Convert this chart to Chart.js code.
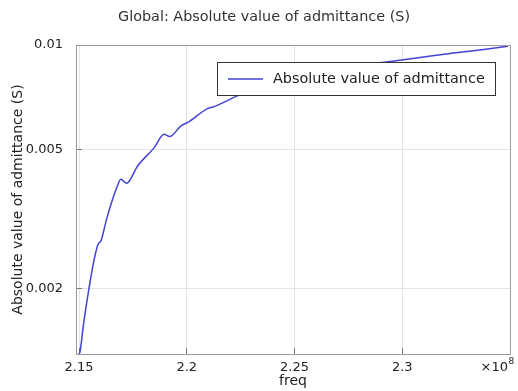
<!DOCTYPE html>
<html><head><meta charset="utf-8">
<script src="https://cdn.jsdelivr.net/npm/chart.js@4/dist/chart.umd.min.js"></script>
<style>html,body{margin:0;padding:0;background:#fff}#wrap{width:518px;height:391px}</style>
</head><body><div id="wrap"><canvas id="c" width="518" height="391"></canvas></div>
<script>
const chartTitle = 'Global: Absolute value of admittance (S)';
const seriesLabel = 'Absolute value of admittance';
const xAxisTitle = 'freq';
const yAxisTitle = 'Absolute value of admittance (S)';
const xExponentBase = '\u00d710';
const xExponent = '8';
// frequency in units of 1e8 Hz
const freq = [2.1500, 2.1505, 2.1520, 2.1536, 2.1546, 2.1559, 2.1574, 2.1589, 2.1602, 2.1628, 2.1651, 2.1675, 2.1694, 2.1721, 2.1772, 2.1849, 2.1895, 2.1921, 2.1972, 2.2003, 2.2096, 2.2126, 2.2250, 2.2389, 2.2528, 2.2667, 2.2806, 2.2944, 2.3083, 2.3222, 2.3361, 2.3490];
const admittance = [0.00130, 0.001321, 0.001568, 0.00183, 0.00200, 0.00223, 0.002487, 0.002687, 0.002746, 0.003167, 0.003536, 0.003903, 0.004122, 0.004015, 0.00450, 0.005079, 0.005545, 0.005462, 0.005856, 0.005988, 0.006568, 0.006655, 0.007216, 0.007762, 0.008178, 0.00851, 0.008766, 0.008971, 0.009209, 0.009455, 0.009676, 0.009921];
const xTicks = [2.15, 2.2, 2.25, 2.3];
const yTicks = [0.002, 0.005, 0.01];

const FONT = 'DejaVu Sans';
const lineColor = '#4343d6';

const decor = {
  id: 'decor',
  afterDraw(chart) {
    const ctx = chart.ctx;
    const a = chart.chartArea;
    ctx.save();
    // frame top/right
    ctx.strokeStyle = '#9a9a9a';
    ctx.lineWidth = 1;
    ctx.beginPath();
    ctx.moveTo(Math.round(a.left) + 0.5, Math.round(a.top) + 0.5);
    ctx.lineTo(Math.round(a.right) + 0.5, Math.round(a.top) + 0.5);
    ctx.lineTo(Math.round(a.right) + 0.5, Math.round(a.bottom) + 0.5);
    ctx.stroke();
    // title
    ctx.fillStyle = '#333';
    ctx.font = '14.4px "' + FONT + '"';
    ctx.textAlign = 'center';
    ctx.textBaseline = 'middle';
    ctx.fillText(chartTitle, 264, 17);
    // x exponent
    ctx.fillStyle = '#222';
    ctx.font = '13px "' + FONT + '"';
    ctx.textAlign = 'right';
    ctx.fillText(xExponentBase, 508, 368);
    ctx.font = '9px "' + FONT + '"';
    ctx.textAlign = 'left';
    ctx.fillText(xExponent, 508.5, 362);
    // legend
    const ds = chart.data.datasets[0];
    const lx = 217, ly = 62, lw = 278, lh = 33;
    ctx.fillStyle = '#fff';
    ctx.fillRect(lx, ly, lw, lh);
    ctx.strokeStyle = '#333';
    ctx.lineWidth = 1;
    ctx.strokeRect(lx + 0.5, ly + 0.5, lw, lh);
    ctx.strokeStyle = ds.borderColor;
    ctx.lineWidth = 1.5;
    ctx.beginPath();
    ctx.moveTo(228, 79);
    ctx.lineTo(263, 79);
    ctx.stroke();
    ctx.fillStyle = '#222';
    ctx.font = '14.4px "' + FONT + '"';
    ctx.textAlign = 'left';
    ctx.textBaseline = 'middle';
    ctx.fillText(ds.label, 273, 79);
    ctx.restore();
  }
};

new Chart(document.getElementById('c'), {
  type: 'line',
  data: {
    datasets: [{
      label: seriesLabel,
      data: freq.map((f, i) => ({x: f, y: admittance[i]})),
      borderColor: lineColor,
      borderWidth: 1.5,
      pointRadius: 0,
      fill: false,
      cubicInterpolationMode: 'monotone'
    }]
  },
  options: {
    responsive: false,
    animation: false,
    devicePixelRatio: 1,
    layout: {padding: {top: 45, right: 8, left: 0, bottom: 0}},
    plugins: {legend: {display: false}, title: {display: false}, tooltip: {enabled: false}},
    scales: {
      x: {
        type: 'linear',
        min: 2.1486,
        max: 2.35,
        afterBuildTicks: s => { s.ticks = xTicks.map(v => ({value: v})); },
        afterFit: s => { s.height = 37; },
        ticks: {
          callback: v => String(v),
          font: {family: FONT, size: 13},
          color: '#222',
          padding: 12,
          maxRotation: 0,
          autoSkip: false
        },
        grid: {color: '#e3e3e3', tickColor: '#777', tickLength: -6, drawTicks: true},
        border: {color: '#9a9a9a', width: 1},
        title: {display: true, text: xAxisTitle, font: {family: FONT, size: 14}, color: '#222', padding: {top: 0, bottom: 1}}
      },
      y: {
        type: 'logarithmic',
        min: 0.001307,
        max: 0.01,
        afterBuildTicks: s => { s.ticks = yTicks.map(v => ({value: v})); },
        afterFit: s => { s.width = 76; },
        ticks: {
          callback: v => String(v),
          font: {family: FONT, size: 13},
          color: '#222',
          padding: 19,
          autoSkip: false
        },
        grid: {color: '#e3e3e3', tickColor: '#777', tickLength: -6, drawTicks: true},
        border: {color: '#9a9a9a', width: 1},
        title: {display: true, text: yAxisTitle, font: {family: FONT, size: 14}, color: '#222', padding: {top: 10, bottom: 0}}
      }
    }
  },
  plugins: [decor]
});
</script>
</body></html>
